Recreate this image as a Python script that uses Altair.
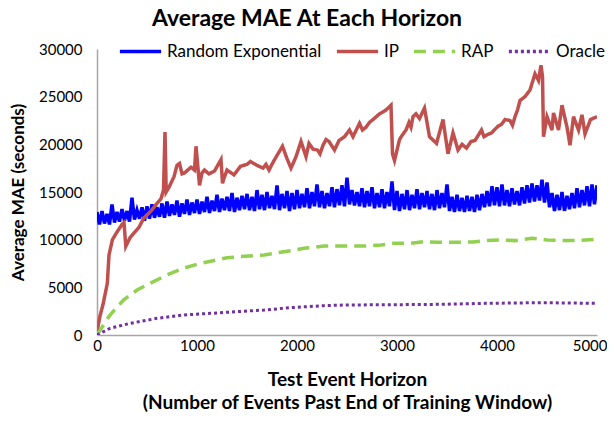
import altair as alt
import pandas as pd

SERIES = ["Random Exponential", "IP", "RAP", "Oracle"]
COLORS = ["#0000FF", "#C0504D", "#92D050", "#7030A0"]
DASHES = [[1, 0], [1, 0], [12, 7], [3, 3]]

# Random Exponential: noisy band, one value every 25 events (0..5000)
re_step = 25
re_vals = [
    12900, 11600, 13000, 11700, 12700, 11600, 13700, 11800, 12900, 11900, 13200, 12000, 13000, 11900, 14400, 12100, 13100, 12200, 13400, 12000,
    13500, 12200, 13700, 12300, 13400, 12400, 13800, 12300, 14000, 12500, 13700, 12600, 14100, 12400, 13800, 12700, 14200, 12600, 13900, 12800,
    14200, 12700, 14000, 12900, 14500, 12800, 14100, 13000, 14700, 12900, 14300, 13100, 14500, 13000, 14900, 12900, 14400, 13100, 14600, 13200,
    14800, 13100, 14500, 13000, 15200, 13200, 14700, 13100, 15000, 13300, 14600, 13200, 15700, 13100, 14800, 13300, 15100, 13000, 14900, 13200,
    15200, 13300, 14800, 13400, 15400, 13300, 15000, 13500, 15800, 13400, 15100, 13300, 14900, 13500, 15500, 13400, 15300, 13600, 15700, 13500,
    16500, 13700, 15200, 13600, 15000, 13500, 15400, 13400, 15100, 13500, 15500, 13300, 14900, 13400, 15300, 13300, 15000, 13500, 16100, 13100,
    15100, 13000, 14800, 13200, 15200, 13100, 14700, 13300, 15300, 13200, 14900, 13400, 15100, 13200, 14800, 13100, 15200, 13300, 14900, 13400,
    15800, 13000, 14500, 12900, 14700, 13000, 14400, 12900, 14600, 13000, 14500, 12900, 14700, 13100, 14800, 13400, 15100, 13500, 15600, 13600,
    15500, 13500, 15800, 13600, 15200, 13500, 15400, 13700, 15100, 13600, 15500, 13800, 15700, 13900, 15900, 14000, 15700, 14100, 16300, 13900,
    16000, 13400, 14900, 13000, 14700, 13100, 15000, 13000, 14600, 13200, 14900, 13300, 15400, 13400, 15200, 13600, 15600, 13500, 15800, 13700,
    15700,
]

ip_x = [0, 30, 60, 103, 120, 154, 200, 250, 270, 288, 330, 370, 420, 470, 540, 600, 640, 665, 680, 692,
        720, 770, 800, 825, 850, 875, 940, 975, 990, 1010, 1025, 1050, 1075, 1120, 1175, 1240, 1255, 1265, 1300, 1370,
        1435, 1500, 1535, 1600, 1660, 1690, 1720, 1770, 1855, 1900, 1940, 1990, 2040, 2090, 2120, 2160, 2205, 2230, 2260, 2290,
        2320, 2375, 2420, 2475, 2525, 2560, 2625, 2655, 2690, 2725, 2760, 2825, 2890, 2940, 2955, 2975, 3025, 3055, 3090, 3120,
        3140, 3160, 3190, 3225, 3275, 3325, 3395, 3460, 3510, 3560, 3610, 3650, 3695, 3740, 3780, 3845, 3870, 3900, 3945, 4010,
        4045, 4080, 4130, 4155, 4180, 4205, 4230, 4280, 4330, 4380, 4415, 4440, 4455, 4465, 4500, 4550, 4565, 4615, 4650, 4700,
        4730, 4765, 4815, 4850, 4880, 4935, 5000]
ip_y = [300, 2000, 3200, 5400, 8400, 10000, 10800, 11600, 11800, 9300, 10200, 10700, 11300, 12300, 13000, 13800, 14300, 15200, 21300, 15000,
        15500, 16600, 17800, 18000, 16900, 17000, 17600, 17300, 19800, 17500, 15700, 17000, 17300, 16900, 17200, 18400, 15900, 16300, 17300, 16800,
        17700, 17900, 18200, 17800, 17500, 17900, 17300, 18300, 19800, 18500, 17500, 18700, 20300, 18700, 20100, 19500, 19400, 19000, 19900, 20500,
        20300, 19400, 20400, 20800, 21500, 20800, 22200, 21500, 21800, 22300, 22600, 23200, 23600, 24100, 19000, 18300, 20500, 21000, 21500, 22300,
        21800, 22900, 23200, 22700, 23800, 20800, 20100, 22600, 19000, 21200, 19400, 20000, 19600, 20300, 20400, 21500, 20800, 21000, 21200, 21900,
        22100, 22600, 22500, 22000, 22900, 23600, 24600, 25000, 25700, 27400, 26700, 28300, 27100, 20800, 22900, 21500, 23300, 21500, 24100, 21800,
        19900, 22900, 21500, 23100, 21100, 22600, 22900]

rap_x = [0, 130, 265, 400, 530, 700, 865, 1035, 1300, 1435, 1670, 1940, 2070, 2270, 2475, 2675, 2840, 2975, 3140, 3275,
         3410, 3580, 3760, 3880, 4045, 4180, 4350, 4500, 4670, 4800, 5000]
rap_y = [0, 2100, 3670, 4720, 5420, 6300, 7000, 7520, 8110, 8220, 8400, 8850, 9100, 9330, 9330, 9330, 9440, 9620, 9620, 9790,
         9720, 9720, 9760, 9900, 9970, 9900, 10140, 9970, 9900, 9900, 10040]

orc_x = [0, 130, 330, 600, 865, 1135, 1400, 1670, 1940, 2270, 2505, 3000, 3445, 3880, 4450, 5000]
orc_y = [0, 700, 1220, 1750, 2100, 2270, 2450, 2620, 2870, 3080, 3150, 3180, 3220, 3320, 3390, 3320]

rows = []
for i, v in enumerate(re_vals):
    rows.append({"series": SERIES[0], "x": i * re_step, "y": v, "o": i})
for i, (a, b) in enumerate(zip(ip_x, ip_y)):
    rows.append({"series": SERIES[1], "x": a, "y": b, "o": i})
for i, (a, b) in enumerate(zip(rap_x, rap_y)):
    rows.append({"series": SERIES[2], "x": a, "y": b, "o": i})
for i, (a, b) in enumerate(zip(orc_x, orc_y)):
    rows.append({"series": SERIES[3], "x": a, "y": b, "o": i})
df = pd.DataFrame(rows)

FONT = "Lato"

color = alt.Color("series:N", scale=alt.Scale(domain=SERIES, range=COLORS),
                  legend=alt.Legend(title=None, orient="none", direction="horizontal",
                                    legendX=21, legendY=-20, gridAlign="none",
                                    symbolType="stroke", symbolSize=1700, symbolStrokeWidth=3.5,
                                    labelFontSize=17, labelFont=FONT, labelColor="#000000",
                                    labelLimit=300, labelOffset=4, columnPadding=7, symbolOffset=0))
dash = alt.StrokeDash("series:N", scale=alt.Scale(domain=SERIES, range=DASHES), legend=None)

xenc = alt.X("x:Q", scale=alt.Scale(domain=[0, 5000], nice=False),
             axis=alt.Axis(values=[0, 1000, 2000, 3000, 4000, 5000], format="d",
                           title=["Test Event Horizon", "(Number of Events Past End of Training Window)"],
                           titleFontSize=19, titleFont=FONT, titleFontWeight="bold", titleColor="#000000",
                           titleLineHeight=23, titlePadding=17,
                           labelFontSize=15, labelFont=FONT, labelColor="#000000", labelPadding=3,
                           labelFlush=False,
                           labelAlign={"condition": {"test": "datum.value == 5000", "value": "right"}, "value": "center"},
                           labelOffset={"condition": {"test": "datum.value == 5000", "value": 10}, "value": 0},
                           ticks=False, grid=False, domainColor="#A6A6A6", domainWidth=1.5))
yenc = alt.Y("y:Q", scale=alt.Scale(domain=[0, 30000], nice=False),
             axis=alt.Axis(values=[0, 5000, 10000, 15000, 20000, 25000, 30000], format="d",
                           title="Average MAE (seconds)",
                           titleFontSize=17, titleFont=FONT, titleFontWeight="bold", titleColor="#000000",
                           titlePadding=11,
                           labelFontSize=15, labelFont=FONT, labelColor="#000000", labelPadding=15,
                           labelFlush=False,
                           ticks=False, grid=False, domainColor="#A6A6A6", domainWidth=1.5))

layers = []
widths = [3.5, 3.5, 3.5, 3]
for s, w in zip(SERIES, widths):
    layers.append(
        alt.Chart(df).transform_filter(alt.datum.series == s)
        .mark_line(strokeWidth=w, clip=True)
        .encode(x=xenc, y=yenc, color=color, strokeDash=dash, order="o:Q")
    )

chart = alt.layer(*layers).properties(
    width=500, height=286,
    autosize=alt.AutoSizeParams(type="none"),
    padding={"left": 89, "top": 41, "right": 10, "bottom": 80},
    title=alt.Title("Average MAE At Each Horizon", fontSize=23, font=FONT, fontWeight="bold",
                    color="#000000", anchor="middle", dx=-40, offset=-2),
).configure_view(stroke=None).configure_legend(symbolStrokeColor=None)

chart.save("out.html", embed_options={"renderer": "svg", "actions": False})
